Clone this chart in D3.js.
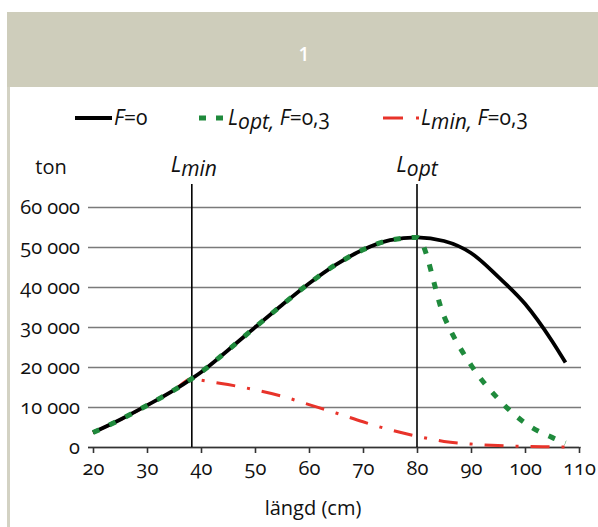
<!DOCTYPE html>
<html>
    <head>
        <style>
        html, body {
            margin: 0;
            padding: 0;
            background: #fff;
        }
        svg {
            display: block;
        }
        svg text {
            font-family: "Open Sans", "Noto Sans", sans-serif;
            font-variant-numeric: oldstyle-nums;
        }
        svg text.head {
            font-variant-numeric: normal;
        }
        </style>
    </head>
    <body>
        <svg width="598" height="527"></svg>

        <script src="https://cdnjs.cloudflare.com/ajax/libs/d3/7.8.5/d3.min.js"></script>
        <script>
            // värden (ton per längdklass)
            let lengths = [20, 25, 30, 35, 38.3, 40, 45, 50, 55, 60, 65, 70, 75, 80, 85, 90, 95, 100, 105, 107.5];
            let f0 = [3600, 6800, 10400, 14200, 17100, 18700, 24200, 29900, 35500, 40900, 45600, 49300, 51700, 52400, 51500, 48500, 42600, 35800, 26500, 21100];
            let loptF03 = [3600, 6800, 10400, 14200, 17100, 18700, 24200, 29900, 35500, 40900, 45600, 49300, 51700, 52400, 32700, 20500, 12100, 6000, 2400, 1000];
            let lminF03 = [3600, 6800, 10400, 14200, 17100, 16700, 15600, 14300, 12700, 10600, 8500, 6300, 4300, 2700, 1400, 750, 350, 150, 50, 0];

            let xTicks = [20, 30, 40, 50, 60, 70, 80, 90, 100, 110];
            let yTicks = [0, 10000, 20000, 30000, 40000, 50000, 60000];
            let lMin = 38.3;
            let lOpt = 80;

            const margin = {top: 207, left: 93, right: 19, bottom: 80};
            const width = 598, height = 527;

            let svg = d3.select("svg");

            // rubrikruta
            svg.append("rect")
                .attr("x", 7).attr("y", 12)
                .attr("width", width - 7).attr("height", 75)
                .attr("fill", "#cecdbb");
            svg.append("text")
                .attr("class", "head")
                .attr("x", 304).attr("y", 61)
                .attr("text-anchor", "middle")
                .attr("fill", "#fff")
                .attr("font-size", 19)
                .attr("font-weight", 600)
                .text("1");
            svg.append("rect")
                .attr("x", 7).attr("y", 87)
                .attr("width", 3).attr("height", height - 87)
                .attr("fill", "#d3d2c3");

            let xScale = d3.scaleLinear()
                .domain([20, 110])
                .range([margin.left, width - margin.right]);
            let yScale = d3.scaleLinear()
                .domain([0, 60000])
                .range([height - margin.bottom, margin.top]);

            // y-axel med rutnät
            let yAxis = d3.axisLeft(yScale)
                .tickValues(yTicks)
                .tickSize(-(width - margin.right - margin.left + 7))
                .tickFormat(d => d3.format(",")(d).replace(/,/g, " "));
            let gy = svg.append("g")
                .attr("transform", "translate(" + [margin.left - 5, 0] + ")")
                .call(yAxis);
            gy.attr("font-family", null);
            gy.select(".domain").remove();
            gy.selectAll("line").attr("stroke", "#7a7a7a").attr("stroke-width", 1.6);
            gy.selectAll("text").attr("font-size", 20).attr("fill", "#111").attr("x", -8);

            // x-axel
            let xAxis = d3.axisBottom(xScale)
                .tickValues(xTicks)
                .tickSize(6);
            let gx = svg.append("g")
                .attr("transform", "translate(" + [0, height - margin.bottom] + ")")
                .call(xAxis);
            gx.attr("font-family", null);
            gx.select(".domain").attr("d", "M" + (margin.left - 5) + ",0.5H" + xScale(110)).attr("stroke", "#333").attr("stroke-width", 1.6);
            gx.selectAll("line").attr("stroke", "#333").attr("stroke-width", 1.6);
            gx.selectAll("text").attr("font-size", 20).attr("fill", "#111").attr("y", 28).attr("dy", 0);

            // Lmin / Lopt linjer
            [lMin, lOpt].forEach(v => {
                svg.append("line")
                    .attr("x1", xScale(v)).attr("x2", xScale(v))
                    .attr("y1", 184).attr("y2", yScale(0))
                    .attr("stroke", "#000").attr("stroke-width", 1.6);
            });
            let subLabel = (x, sub) => {
                let t = svg.append("text")
                    .attr("x", x).attr("y", 172)
                    .attr("text-anchor", "middle")
                    .attr("font-style", "italic")
                    .attr("font-size", 22)
                    .attr("fill", "#111");
                t.append("tspan").text("L");
                t.append("tspan").attr("dy", 4).attr("font-size", 21).text(sub);
            };
            subLabel(xScale(lMin) + 2, "min");
            subLabel(xScale(lOpt), "opt");

            svg.append("text")
                .attr("x", 51).attr("y", 174)
                .attr("text-anchor", "middle")
                .attr("font-size", 20).attr("fill", "#111")
                .text("ton");
            svg.append("text")
                .attr("x", 313).attr("y", 515)
                .attr("text-anchor", "middle")
                .attr("font-size", 20).attr("fill", "#111")
                .text("längd (cm)");

            // serier
            let series = [
                {values: lminF03, color: "#e8332a", width: 3, dash: "19,12,3,12"},
                {values: f0, color: "#000", width: 3.8, dash: null},
                {values: loptF03, color: "#1f8a3c", width: 5, dash: "7,11"}
            ];
            let line = d3.line()
                .x(d => xScale(d[0]))
                .y(d => yScale(d[1]))
                .curve(d3.curveMonotoneX);
            series.forEach(s => {
                svg.append("path")
                    .datum(lengths.map((l, i) => [l, s.values[i]]))
                    .attr("d", line)
                    .attr("fill", "none")
                    .attr("stroke", s.color)
                    .attr("stroke-width", s.width)
                    .attr("stroke-dasharray", s.dash);
            });

            // legend
            let legendY = 118;
            let legend = svg.append("g").attr("font-size", 21).attr("fill", "#111");
            legend.append("line").attr("x1", 75).attr("x2", 112).attr("y1", legendY).attr("y2", legendY)
                .attr("stroke", "#000").attr("stroke-width", 3.8);
            let t1 = legend.append("text").attr("x", 114).attr("y", legendY + 7);
            t1.append("tspan").attr("font-style", "italic").text("F");
            t1.append("tspan").text("=0");

            legend.append("line").attr("x1", 199).attr("x2", 224).attr("y1", legendY).attr("y2", legendY)
                .attr("stroke", "#1f8a3c").attr("stroke-width", 5).attr("stroke-dasharray", "7,10");
            let t2 = legend.append("text").attr("x", 228).attr("y", legendY + 7).attr("font-style", "italic");
            t2.append("tspan").text("L");
            t2.append("tspan").attr("dy", 4).text("opt,");
            t2.append("tspan").attr("dy", -4).text(" F");
            t2.append("tspan").attr("font-style", "normal").text("=0,3");

            legend.append("line").attr("x1", 383).attr("x2", 419).attr("y1", legendY).attr("y2", legendY)
                .attr("stroke", "#e8332a").attr("stroke-width", 3).attr("stroke-dasharray", "20,13,3,12");
            let t3 = legend.append("text").attr("x", 421).attr("y", legendY + 7).attr("font-style", "italic");
            t3.append("tspan").text("L");
            t3.append("tspan").attr("dy", 4).text("min,");
            t3.append("tspan").attr("dy", -4).text(" F");
            t3.append("tspan").attr("font-style", "normal").text("=0,3");
        </script>
    </body>
</html>
